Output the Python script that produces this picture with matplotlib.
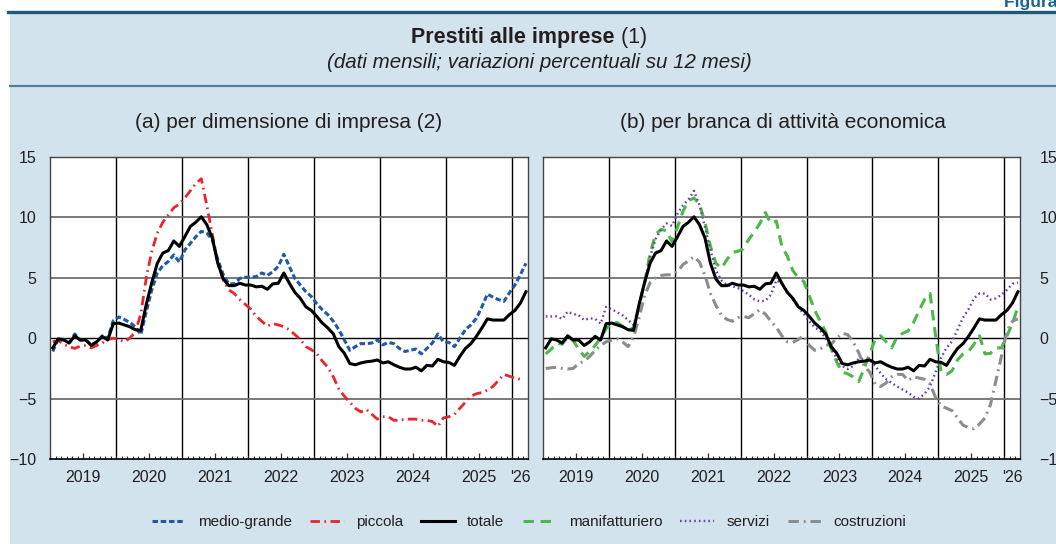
import numpy as np
import matplotlib
matplotlib.use("Agg")
import matplotlib.pyplot as plt
from matplotlib.patches import Rectangle
from matplotlib.lines import Line2D
from matplotlib.transforms import blended_transform_factory, ScaledTranslation

# monthly series, Jan 2019 - Mar 2026 (12-month % changes)
start_year = 2019
totale = [-0.8, -0.05, -0.15, -0.4, 0.2, -0.15, -0.15, -0.6, -0.3, 0.15, -0.15, 1.2,
          1.25, 1.1, 0.95, 0.7, 0.65, 2.8, 4.6, 6.2, 7.05, 7.25, 8.05, 7.6,
          8.4, 9.25, 9.6, 10.05, 9.4, 8.3, 6.2, 4.9, 4.35, 4.35, 4.55, 4.4,
          4.4, 4.25, 4.3, 4.05, 4.5, 4.55, 5.4, 4.55, 3.8, 3.3, 2.6, 2.3,
          1.8, 1.25, 0.85, 0.35, -0.7, -1.25, -2.1, -2.2, -2.05, -1.95, -1.9, -1.8,
          -2.05, -1.95, -2.2, -2.4, -2.55, -2.55, -2.4, -2.7, -2.25, -2.3, -1.75, -1.95,
          -2.0, -2.25, -1.5, -0.85, -0.45, 0.15, 0.85, 1.6, 1.5, 1.5, 1.5, 1.95,
          2.3, 2.9, 3.85]
medio_grande = [-1.1, -0.05, -0.1, -0.35, 0.35, -0.15, -0.15, -0.55, -0.3, 0.2, 0.0, 1.45,
                1.75, 1.55, 1.3, 0.95, 0.3, 2.2, 4.0, 5.4, 6.0, 6.35, 6.9, 6.3,
                7.3, 7.85, 8.4, 8.85, 8.7, 8.15, 6.5, 5.25, 4.5, 4.5, 4.95, 5.05,
                5.05, 5.1, 5.4, 5.2, 5.5, 5.95, 6.95, 5.95, 4.95, 4.4, 3.85, 3.45,
                2.85, 2.35, 1.95, 1.4, 0.7, -0.15, -1.0, -0.7, -0.45, -0.45, -0.4, -0.15,
                -0.55, -0.35, -0.45, -0.85, -1.1, -1.0, -0.9, -1.3, -0.85, -0.4, 0.35, -0.3,
                -0.35, -0.7, 0.0, 0.7, 1.1, 1.65, 2.6, 3.65, 3.4, 3.2, 3.05, 3.75,
                4.4, 5.25, 6.2]
piccola = [-0.3, -0.2, -0.5, -0.7, -0.85, -0.65, -0.6, -0.8, -0.6, -0.4, -0.1, 0.0,
           -0.1, -0.3, 0.0, 0.5, 2.0, 5.0, 7.2, 8.7, 9.6, 10.2, 10.8, 11.1,
           11.6, 12.2, 12.8, 13.2, 11.0, 8.6, 6.2, 4.8, 4.0, 3.7, 3.2, 2.8,
           2.4, 1.8, 1.4, 1.0, 1.2, 1.1, 0.95, 0.7, 0.3, -0.1, -0.7, -0.95,
           -1.3, -1.9, -2.4, -3.2, -4.2, -4.8, -5.3, -5.8, -6.1, -5.9, -6.3, -6.7,
           -6.5, -6.5, -6.8, -6.8, -6.7, -6.7, -6.7, -6.8, -6.8, -6.9, -7.3, -6.6,
           -6.5, -6.3, -5.8, -5.3, -4.8, -4.6, -4.5, -4.3, -4.0, -3.5, -3.0, -3.15,
           -3.3, -3.4, np.nan]
manifatturiero = [-1.3, -0.9, -0.4, -0.5, 0.1, -0.2, -0.9, -1.5, -1.1, -0.6, 0.0, 0.8,
                  1.2, 1.3, 1.0, 0.6, 0.9, 2.6, 4.6, 7.0, 8.6, 9.0, 8.9, 8.0,
                  9.2, 10.5, 11.4, 11.6, 11.1, 9.6, 7.6, 6.2, 5.8, 6.5, 7.1, 7.2,
                  7.4, 8.2, 8.8, 9.5, 10.4, 9.5, 9.7, 7.6, 6.8, 5.6, 5.0, 4.7,
                  3.5, 2.3, 1.4, 0.5, -0.9, -2.0, -2.8, -2.95, -3.2, -3.6, -2.5, -1.3,
                  -0.1, 0.2, -0.3, -0.8, 0.1, 0.4, 0.6, 1.3, 2.3, 3.2, 3.7, 0.2,
                  -2.8, -3.0, -2.7, -1.8, -1.3, -1.1, -0.5, 0.2, -1.3, -1.25, -0.8, -0.8,
                  0.2, 1.2, 2.6]
servizi = [1.8, 1.8, 1.8, 1.6, 2.2, 2.0, 1.9, 1.5, 1.65, 1.6, 1.2, 2.6,
           2.4, 2.15, 1.9, 1.5, 1.1, 2.8, 4.6, 6.7, 8.2, 9.0, 9.5, 9.3,
           10.3, 11.0, 11.5, 12.2, 11.0, 9.2, 7.3, 5.6, 4.8, 4.4, 4.3, 4.15,
           3.9, 3.6, 3.2, 3.05, 3.1, 3.6, 4.8, 4.5, 3.8, 3.2, 2.6, 2.0,
           1.4, 0.9, 0.6, 0.0, -0.8, -1.7, -2.3, -2.55, -2.3, -1.7, -1.75, -1.8,
           -2.3, -2.9, -3.4, -3.7, -4.0, -4.25, -4.5, -4.85, -5.0, -4.6, -4.0, -2.8,
           -1.6, -0.8, -0.25, 0.7, 1.7, 2.4, 3.3, 3.7, 3.7, 3.2, 3.3, 3.6,
           4.0, 4.5, 4.6]
costruzioni = [-2.5, -2.45, -2.4, -2.5, -2.55, -2.5, -2.1, -1.9, -1.5, -1.0, -0.6, -0.3,
               -0.15, -0.05, -0.3, -0.7, 0.1, 1.7, 3.5, 4.6, 5.0, 5.2, 5.25, 5.25,
               5.5, 6.1, 6.4, 6.75, 6.3, 5.2, 3.7, 2.7, 1.9, 1.55, 1.4, 1.7,
               1.8, 1.7, 2.05, 2.35, 2.0, 1.4, 0.9, 0.2, -0.3, -0.35, -0.1, 0.2,
               -0.6, -1.0, -0.9, -0.6, -0.5, 0.0, 0.4, 0.3, -0.3, -1.2, -2.3, -2.8,
               -3.8, -4.0, -3.7, -3.2, -3.0, -3.0, -3.5, -3.2, -3.3, -3.4, -3.8, -4.9,
               -5.6, -5.8, -6.0, -6.6, -7.2, -7.4, -7.5, -7.1, -6.6, -5.5, -3.5, -1.5,
               0.6, 1.4, 1.6]

year_labels = ["2019", "2020", "2021", "2022", "2023", "2024", "2025"]
short_label = "'26"

W, H = 1056, 544
BG = "#d3e3ed"
TXT = "#231f20"

plt.rcParams["font.family"] = ["Liberation Sans", "DejaVu Sans"]


def month_x(n):
    # mid-month positions in fractional years
    return start_year + (np.arange(n) + 0.5) / 12.0


def style_axes(ax, side):
    ax.set_facecolor("white")
    ax.set_xlim(2019, 2026.24)
    ax.set_ylim(-10, 15)
    ax.set_yticks([-10, -5, 0, 5, 10, 15])
    pad = 14 if side == "right" else 10
    if side == "right":
        ax.yaxis.tick_right()
    ax.tick_params(axis="y", length=0, pad=pad, labelsize=11.5, labelcolor=TXT)

    # year labels centred on mid-year ticks, monthly minor ticks
    ax.set_xticks([y + 0.5 for y in range(2019, 2026)])
    ax.set_xticklabels(year_labels)
    ax.set_xticks(np.arange(2019, 2026.25, 1 / 12.0), minor=True)
    ax.tick_params(axis="x", which="major", direction="in", length=4.5, width=0.9,
                   color="#333333", pad=8, labelsize=11.5, labelcolor=TXT)
    ax.tick_params(axis="x", which="minor", direction="in", length=2.4, width=0.8,
                   color="#333333")
    trans = blended_transform_factory(ax.transData, ax.transAxes)
    trans = trans + ScaledTranslation(0, -8 / 72, ax.figure.dpi_scale_trans)
    ax.text(2026.12, 0.0, short_label, transform=trans, ha="center", va="top",
            fontsize=11.5, color=TXT)

    for yr in range(2020, 2027):
        ax.axvline(yr, color="black", lw=1.0, zorder=1)
    for v in (-5, 5, 10):
        ax.axhline(v, color="#6e6e6e", lw=1.3, zorder=1)
    ax.axhline(0, color="black", lw=1.0, zorder=1)

    for s in ax.spines.values():
        s.set_linewidth(1.0)
        s.set_color("#444444")
    ax.spines["bottom"].set_color("black")
    ax.spines["bottom"].set_linewidth(1.2)


def draw_frame(fig):
    fig.patch.set_facecolor("white")
    fig.add_artist(Rectangle((10 / W, 0), 1 - 10 / W, 1 - 13 / H,
                             transform=fig.transFigure, facecolor=BG,
                             edgecolor="none", zorder=0))
    fig.add_artist(Line2D([8 / W, 1], [1 - 12 / H] * 2, transform=fig.transFigure,
                          color="#1e5a78", lw=2.4))
    fig.add_artist(Line2D([10 / W, 1], [1 - 86 / H] * 2, transform=fig.transFigure,
                          color="#557f99", lw=1.6))
    fig.text(1004 / W, 1 - 10 / H, "Figura 6.1", ha="left", va="bottom",
             fontsize=12.5, fontweight="bold", color="#1b6394")

    # title: bold part followed by the note reference
    t1 = fig.text(0.5, 1 - 37 / H, "Prestiti alle imprese", ha="center", va="center",
                  fontsize=15.5, fontweight="bold", color=TXT)
    t2 = fig.text(0.5, 1 - 37 / H, " (1)", ha="left", va="center",
                  fontsize=15.5, color=TXT)
    r = fig.canvas.get_renderer()
    w1 = t1.get_window_extent(r).width
    w2 = t2.get_window_extent(r).width
    cx = 0.5 * W + 1
    t1.set_x((cx - w2 / 2) / W)
    t2.set_x((cx - w2 / 2 + w1 / 2) / W)
    fig.text(539 / W, 1 - 63 / H, "(dati mensili; variazioni percentuali su 12 mesi)",
             ha="center", va="center", fontsize=14.8, style="italic", color=TXT)

    fig.text(289 / W, 1 - 122 / H, "(a) per dimensione di impresa (2)",
             ha="center", va="center", fontsize=15, color=TXT)
    fig.text(783 / W, 1 - 122 / H, "(b) per branca di attività economica",
             ha="center", va="center", fontsize=15, color=TXT)


def main():
    fig = plt.figure(figsize=(W / 100, H / 100), dpi=100)
    draw_frame(fig)

    bottom = 1 - 459 / H
    height = (459 - 157) / H
    ax1 = fig.add_axes([50 / W, bottom, (528 - 50) / W, height])
    ax2 = fig.add_axes([543 / W, bottom, (1020 - 543) / W, height])
    style_axes(ax1, "left")
    style_axes(ax2, "right")

    x = month_x(len(totale))

    h_mg, = ax1.plot(x, medio_grande, color="#1f5aa6", lw=2.2, dashes=(1.8, 0.9),
                     label="medio-grande", zorder=3)
    h_pi, = ax1.plot(x, piccola, color="#e8262b", lw=2.0, dashes=(3.4, 1.6, 0.6, 1.6),
                     label="piccola", zorder=3)
    h_to, = ax1.plot(x, totale, color="black", lw=2.2, label="totale", zorder=4)

    h_ma, = ax2.plot(x, manifatturiero, color="#4bb848", lw=2.2, dashes=(3.4, 2.2),
                     label="manifatturiero", zorder=3)
    h_se, = ax2.plot(x, servizi, color="#6b3fa8", lw=1.7, dashes=(0.7, 1.3),
                     label="servizi", zorder=3)
    h_co, = ax2.plot(x, costruzioni, color="#8c8c8c", lw=2.2,
                     dashes=(3.4, 1.6, 0.6, 1.6), label="costruzioni", zorder=3)
    ax2.plot(x, totale, color="black", lw=2.2, zorder=4)

    handles = [h_mg, h_pi, h_to, h_ma, h_se, h_co]
    fig.legend(handles, [h.get_label() for h in handles], loc="center",
               bbox_to_anchor=(529 / W, 1 - 522 / H), ncol=6, frameon=False,
               fontsize=11, handlelength=2.2, handletextpad=0.8,
               columnspacing=1.2, labelcolor=TXT)

    fig.savefig("out.png", dpi=100, facecolor="white")
    plt.close(fig)


if __name__ == "__main__":
    main()
